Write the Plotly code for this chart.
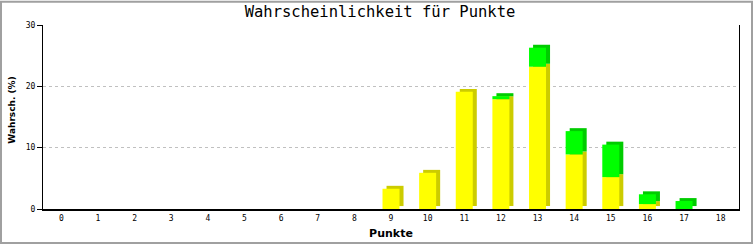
import plotly.graph_objects as go

punkte = list(range(19))
tick_labels = [str(p) for p in punkte]
gelb = [0, 0, 0, 0, 0, 0, 0, 0, 0, 3.3, 5.9, 19.1, 17.9, 23.2, 8.9, 5.2, 0.8, 0, 0]
gruen = [0, 0, 0, 0, 0, 0, 0, 0, 0, 0, 0, 0, 0.5, 3.1, 3.8, 5.3, 1.6, 1.3, 0]

BAR_W = 0.464
DX = 0.11
DY = 0.48

YELLOW = "#ffff00"
YELLOW_SIDE = "#cccc00"
GREEN = "#00ff00"
GREEN_SIDE = "#00cc00"

fig = go.Figure()

def bar(y, base, color, shift):
    return go.Bar(
        x=punkte, y=y, base=base, width=BAR_W, offset=-BAR_W / 2 + shift,
        marker=dict(color=color, line=dict(width=0)), showlegend=False, hoverinfo="skip",
    )

base_y_shadow = [DY] * len(punkte)
base_g = gelb
base_g_shadow = [g + DY for g in gelb]

fig.add_trace(bar(gelb, base_y_shadow, YELLOW_SIDE, DX))
fig.add_trace(bar(gruen, base_g_shadow, GREEN_SIDE, DX))
fig.add_trace(bar(gelb, [0] * len(punkte), YELLOW, 0))
fig.add_trace(bar(gruen, base_g, GREEN, 0))

L, R, T, B = 43, 14, 25, 36
W, H = 753, 250
pw, ph = W - L - R, H - T - B

fig.update_layout(
    width=W, height=H, barmode="overlay",
    margin=dict(l=L, r=R, t=T, b=B, pad=0),
    paper_bgcolor="white", plot_bgcolor="white",
    title=dict(text="Wahrscheinlichkeit für Punkte", x=380 / W, xanchor="center",
               y=1 - 12 / H, yanchor="middle",
               font=dict(family="DejaVu Sans Mono", size=15.5, color="black")),
    xaxis=dict(range=[-0.5, 18.5], tickmode="array", tickvals=punkte, ticktext=tick_labels,
               showgrid=False, zeroline=False, showline=True, linecolor="black", linewidth=2,
               ticks="", tickfont=dict(family="DejaVu Sans Mono", size=8, color="black"),
               title=dict(text="<b>Punkte</b>", standoff=8,
                          font=dict(family="DejaVu Sans", size=11, color="black"))),
    yaxis=dict(range=[0, 30], tickvals=[0, 10, 20, 30], showgrid=True, gridcolor="#c0c0c0",
               griddash="dot", gridwidth=1, zeroline=False, showline=True, linecolor="black",
               linewidth=1, mirror=True, ticks="outside", ticklen=5, tickcolor="black",
               tickfont=dict(family="DejaVu Sans Mono", size=8, color="black")),
    annotations=[dict(text="<b>Wahrsch. (%)</b>", textangle=-90, showarrow=False,
                      xref="paper", yref="paper", x=(12 - L) / pw, y=(214 - 113) / ph,
                      xanchor="center", yanchor="middle",
                      font=dict(family="DejaVu Sans", size=9, color="black"))],
    shapes=[dict(type="rect", xref="paper", yref="paper",
                 x0=(-L + 1) / pw, x1=(pw + R - 1) / pw,
                 y0=(-B + 1) / ph, y1=(ph + T - 1) / ph,
                 line=dict(color="#a0a0a0", width=2), fillcolor="rgba(0,0,0,0)", layer="below")],
)

fig.write_html("out.html")
